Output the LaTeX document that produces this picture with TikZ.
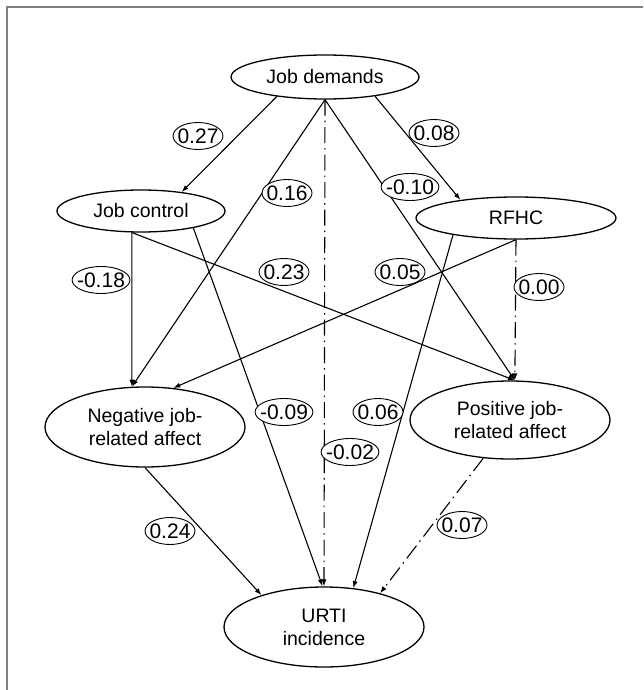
\documentclass[tikz,border=0pt]{standalone}
\usepackage{fontspec}
\setmainfont{Liberation Sans}
\usepackage{tikz}
\usetikzlibrary{shapes.geometric, arrows.meta, positioning}

\begin{document}
\begin{tikzpicture}[
  x=1pt, y=-1pt,
  every node/.style={font=\fontsize{19.5}{23}\selectfont},
  var/.style={ellipse, draw, line width=1.3pt, inner sep=0pt, align=center},
  coef/.style={ellipse, draw, line width=0.9pt, fill=white, inner xsep=-3.5pt, inner ysep=0pt, minimum width=50pt, minimum height=27pt, font=\fontsize{21}{23}\selectfont},
  link/.style={-{Latex[length=7pt,width=5pt]}, line width=1.1pt},
  nullpath/.style={link, dash pattern=on 16pt off 5pt on 1.5pt off 5pt},
  frame/.style={line width=1.5pt, draw={rgb,255:red,128;green,128;blue,128}}
]
\useasboundingbox (0,0) rectangle (643,690);
\draw[frame] (643,7) -- (7,7) -- (7,690);

% Variables
\node[var, minimum width=188pt, minimum height=44pt] (demands) at (325,77) {Job demands};
\node[var, minimum width=168pt, minimum height=42pt] (control) at (141,211) {Job control};
\node[var, minimum width=200pt, minimum height=42pt] (rfhc) at (516,218) {RFHC};
\node[var, minimum width=200pt, minimum height=80pt] (negaff) at (145,427) {Negative job-\\related affect};
\node[var, minimum width=200pt, minimum height=78pt] (posaff) at (510,420) {Positive job-\\related affect};
\node[var, minimum width=200pt, minimum height=80pt] (urti) at (324,627) {URTI\\incidence};

% Paths
\draw[link] (demands.202) -- (control.25);
\draw[link] (demands.339) -- (rfhc.162);
\draw[link] (demands.south) -- (negaff.108);
\draw[nullpath] (demands.south) -- (urti.north);
\draw[link] (demands.south) -- (posaff.83);
\draw[link] (control.247) -- (negaff.108);
\draw[link] (control.247) -- (posaff.83);
\draw[link] (control.342) -- (urti.92);
\draw[link] (rfhc.south) -- (negaff.54);
\draw[nullpath] (rfhc.south) -- (posaff.83);
\draw[link] (rfhc.195) -- (urti.53);
\draw[link] (negaff.south) -- (urti.153);
\draw[nullpath] (posaff.235) -- (urti.31);

% Coefficients
\node[coef] (demctl) at (198,136) {0.27};
\node[coef] (demrfhc) at (434,133) {0.08};
\node[coef] (demneg) at (287,193) {0.16};
\node[coef] (dempos) at (410,187) {-0.10};
\node[coef] (ctlneg) at (101,280) {-0.18};
\node[coef] (ctlpos) at (284,272) {0.23};
\node[coef] (rfhcneg) at (400,272) {0.05};
\node[coef] (rfhcpos) at (539,287) {0.00};
\node[coef] (ctlurti) at (284,412) {-0.09};
\node[coef] (rfhcurti) at (378,412) {0.06};
\node[coef] (demurti) at (350,452) {-0.02};
\node[coef] (negurti) at (170,531) {0.24};
\node[coef] (posurti) at (462,525) {0.07};
\end{tikzpicture}
\end{document}
